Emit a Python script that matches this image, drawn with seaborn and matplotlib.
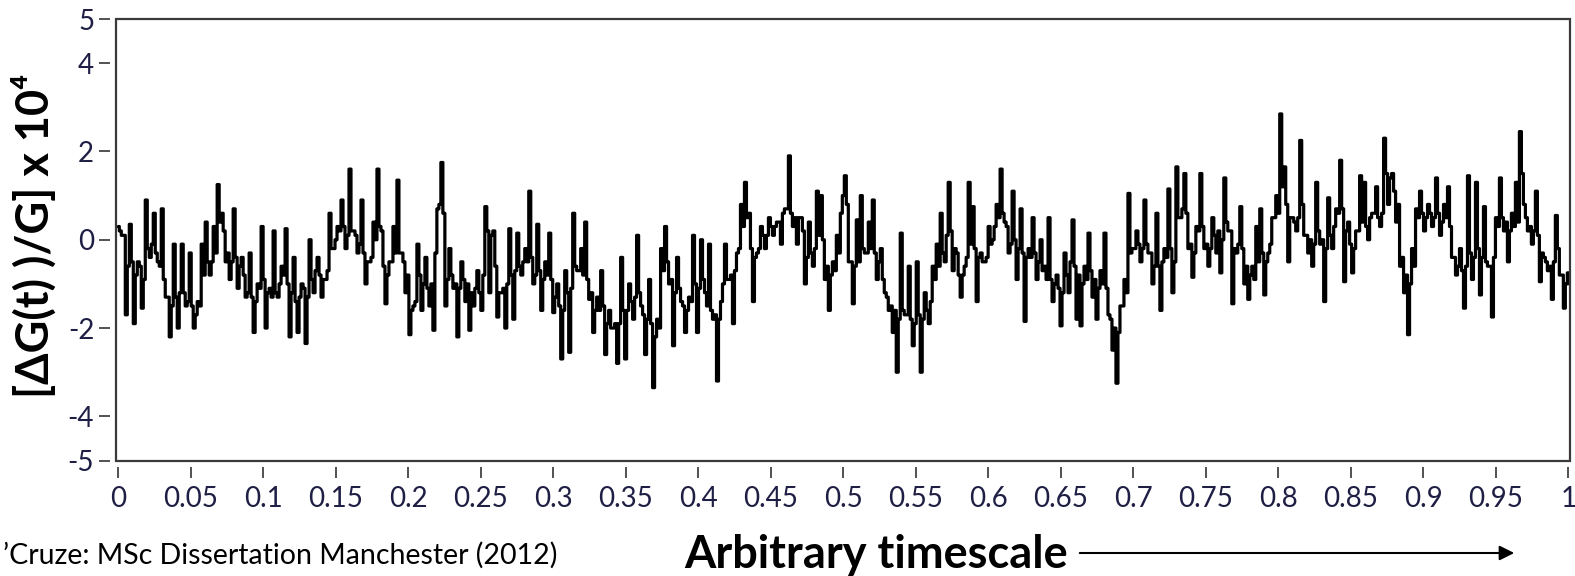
import numpy as np
import pandas as pd
import matplotlib
matplotlib.use("Agg")
import matplotlib.pyplot as plt
import seaborn as sns
from matplotlib.patches import Rectangle, FancyArrowPatch

# ---- data (equally spaced in time) ----
# excursions (spike tips / band edges), one reading every ~4 px
seg1 = [0.3, 0.1, -1.7, 0.35, -1.9, -0.5, -1.55, 0.9, -0.4, 0.6,
        -0.5, 0.7, -1.3, -2.2, -0.1, -2.0, -0.1, -1.5, -0.3, -2.0,
        -1.4, -0.1, 0.4, -0.8, 0.3, 1.25, 0.6, -0.5, -0.9, 0.7,
        -1.1, -0.4, -1.3, -0.3, -2.1, -1.0, 0.3, -2.0, -1.1, 0.2,
        -1.3, -0.6, 0.25, -2.2, -0.4, -2.1, -1.0, -2.35, 0.0, -1.2,
        -0.4, -1.3, -0.9, 0.6, -0.2, 0.3, 0.9, -0.2, 1.6, 0.2,
        -0.3, 0.9, -1.0, -0.5, 0.4, 1.6, 0.2, -1.45, -0.5, 0.3,
        1.35, -0.3, -1.2, -2.15, -1.5, -0.1, -1.6, -0.4, -1.5, -2.05,
        0.7, 1.75, -1.5, -0.2, -1.1, -2.2, -0.5, -1.4, -2.05]
seg2 = [-1.5, -0.7, -1.6, 0.75, -1.2, 0.2, -1.75, -1.2, -2.0, 0.25,
        -1.8, 0.15, -0.8, -0.2, 1.1, -1.0, 0.35, -1.6, -0.5, 0.15,
        -1.65, -1.0, -2.7, -0.7, -2.55, 0.6, -0.7, -0.2, 0.4, -1.35,
        -2.1, -1.3, -0.7, -2.6, -1.6, -2.0, -2.8, -0.4, -2.7, -1.0,
        -1.8, 0.1, -1.5, -2.6, -0.9, -3.35, -1.8, -0.2, 0.3, -1.0,
        -2.4, -0.4, -1.4, -2.1, -1.3, 0.1, -2.1, 0.0, -1.2, -0.1,
        -1.8, -3.2, -1.4, -0.1, -0.9, -1.9, -0.3, 0.8, 1.3, 0.6,
        -1.4, -0.3, 0.3, -0.2, 0.5, 0.1, 0.4, -0.1, 0.7, 1.9,
        0.3, -0.1, 0.5, -1.0, 0.4, -0.6, 1.1, 1.0, -0.9, -1.6,
        -0.5, 0.1]
seg3 = [0.6, 1.45, -0.5, -1.45, 0.45, 1.0, -0.3, 0.4, 0.9, -0.9,
        -0.2, -1.2, -1.6, -2.1, -3.0, 0.15, -1.7, -0.6, -2.4, -0.5,
        -3.0, -1.2, -1.9, -0.6, -0.1, 0.6, -0.5, 1.3, -0.7, -0.3,
        -1.3, -0.6, 1.3, 0.75, -1.4, -0.3, -0.5, 0.3, 0.0, 0.8,
        1.6, 0.4, -0.3, 1.1, -0.9, 0.7, -1.85, -0.2, 0.5, -0.9,
        0.0, -0.6, 0.5, -1.4, -0.8, -1.95, -0.3, -1.2, 0.45, -1.8,
        -1.95, -0.6, 0.15, -1.3, -1.8, -0.7, 0.15, -1.7, -2.5, -3.25,
        -1.5, -0.9, 1.05, -0.2, 0.2, -0.5, 0.9, -0.3, -1.0, 0.6,
        -1.6, -0.2, 1.15, -1.2, 1.65, 0.5, 1.5, -0.2, -0.85, 0.3]
seg4 = [1.5, -0.2, -0.6, 0.5, -0.3, -0.75, 1.4, 0.2, -1.45, -0.3,
        0.75, -1.0, -1.35, -0.6, 0.3, 0.7, -1.25, -0.3, 0.5, 1.0,
        2.85, 1.65, -0.5, 0.5, 0.2, 2.25, 0.1, -0.3, -0.6, 1.3,
        -0.1, -1.4, 0.95, -0.2, 0.7, 1.8, -0.95, 0.4, -0.75, 0.2,
        1.45, 1.3, 0.0, 0.6, 1.2, 0.3, 2.3, 0.8, 1.5, 0.4,
        -0.6, -1.2, -2.15, -0.2, 0.7, 1.1, 0.2, 0.8, 0.3, 1.4,
        0.1, 0.8, 1.2, -0.4, -0.8, -0.2, -1.55, 1.45, -0.9, 1.3,
        -1.25, 0.75, -0.6, -1.75, 0.5, 1.4, 0.2, -0.5, 0.6, 1.3,
        2.45, 0.8, 0.2, -0.1, 1.1, -0.95, -0.4, -0.7, -1.35, 0.55,
        -0.8, -1.55, -0.75]

# dense core of the trace, read between the excursions above
core1 = [0.2, 0.1, -0.6, -0.5, -0.8, -0.6, -0.9, -0.2, -0.1, -0.3,
         -0.6, -0.9, -1.3, -1.5, -1.3, -1.2, -1.2, -1.4, -1.5, -1.7,
         -1.5, -0.8, -0.5, -0.5, -0.3, 0.4, 0.2, -0.3, -0.5, -0.4,
         -0.6, -0.8, -1.2, -1.3, -1.4, -1.1, -0.9, -1.2, -1.3, -1.2,
         -1.0, -0.8, -1.0, -1.2, -1.4, -1.3, -1.1, -1.3, -0.9, -0.7,
         -0.8, -0.9, -0.7, -0.2, 0.0, 0.2, 0.3, 0.1, 0.2, 0.1,
         -0.1, -0.3, -0.5, -0.4, 0.0, 0.3, -0.6, -0.8, -0.5, -0.3,
         -0.3, -0.5, -0.8, -1.6, -1.4, -0.8, -1.0, -1.1, -1.0, -0.3,
         0.8, 0.6, -0.9, -0.8, -1.0, -1.1, -0.9, -1.0, -1.2]
core2 = [-1.1, -1.2, -0.8, 0.2, 0.1, -0.6, -1.2, -1.1, -1.0, -0.8,
         -0.7, -0.6, -0.5, -0.5, -0.4, -0.8, -0.7, -0.9, -0.8, -0.9,
         -1.3, -1.5, -1.6, -1.2, -1.1, -0.6, -0.7, -0.8, -0.9, -1.2,
         -1.6, -1.6, -1.5, -1.9, -2.0, -1.9, -1.9, -1.6, -1.6, -1.4,
         -1.3, -1.2, -1.7, -1.8, -1.9, -2.2, -2.0, -0.7, -0.5, -0.9,
         -1.2, -1.1, -1.5, -1.6, -1.4, -1.0, -1.1, -0.9, -1.5, -1.6,
         -1.7, -1.8, -1.0, -0.9, -0.8, -0.7, -0.2, 0.3, 0.5, -0.2,
         -0.4, -0.2, 0.1, 0.1, 0.3, 0.3, 0.4, 0.6, 0.7, 0.6,
         0.5, 0.5, 0.2, -0.4, -0.3, -0.2, 0.1, 0.0, -0.6, -0.8,
         -0.7, -0.3]
core3 = [1.0, 0.8, -0.5, -0.6, -0.5, -0.2, -0.3, -0.2, -0.3, -0.5,
         -0.9, -1.3, -1.5, -1.6, -1.8, -1.6, -1.7, -1.8, -1.9, -1.7,
         -1.8, -1.6, -1.4, -0.9, -0.6, -0.3, 0.1, 0.2, -0.2, -0.8,
         -0.8, -0.4, -0.1, -0.2, -0.4, -0.5, -0.4, -0.1, 0.3, 0.5,
         0.6, 0.3, -0.1, 0.0, -0.2, -0.3, -0.4, -0.4, -0.3, -0.5,
         -0.7, -0.9, -0.9, -1.0, -1.1, -1.2, -0.8, -0.5, -0.6, -0.8,
         -1.0, -0.9, -0.7, -0.9, -1.1, -1.0, -1.1, -1.8, -2.0, -2.1,
         -1.5, -1.2, -0.3, -0.2, -0.1, -0.2, -0.1, -0.3, -0.6, -0.6,
         -0.5, -0.4, -0.2, -0.5, 0.5, 0.7, 0.6, -0.1, -0.3, 0.2]
core4 = [0.3, -0.1, -0.2, 0.1, 0.2, 0.0, 0.4, 0.2, -0.2, -0.1,
         -0.2, -0.6, -0.8, -0.9, -0.5, -0.3, -0.5, -0.1, 0.5, 0.6,
         1.2, 0.8, 0.5, 0.4, 0.5, 0.8, 0.1, 0.0, -0.1, 0.2,
         0.0, -0.2, 0.1, 0.3, 0.6, 0.7, 0.2, -0.1, -0.2, 0.2,
         0.4, 0.3, 0.5, 0.6, 0.5, 0.6, 1.5, 1.4, 1.1, 0.8,
         -0.4, -0.8, -1.0, -0.6, 0.5, 0.6, 0.5, 0.6, 0.5, 0.6,
         0.4, 0.5, 0.3, -0.4, -0.6, -0.7, -0.6, -0.3, -0.4, -0.2,
         -0.4, -0.5, -0.6, -0.4, 0.3, 0.5, 0.4, 0.2, 0.3, 0.4,
         1.5, 0.5, 0.3, 0.2, 0.1, -0.3, -0.5, -0.6, -0.5, -0.2,
         -0.8, -1.0, -1.0]

x_ticks = [0, 0.05, 0.1, 0.15, 0.2, 0.25, 0.3, 0.35, 0.4, 0.45, 0.5,
           0.55, 0.6, 0.65, 0.7, 0.75, 0.8, 0.85, 0.9, 0.95, 1]
x_tick_labels = ["0", "0.05", "0.1", "0.15", "0.2", "0.25", "0.3", "0.35",
                 "0.4", "0.45", "0.5", "0.55", "0.6", "0.65", "0.7", "0.75",
                 "0.8", "0.85", "0.9", "0.95", "1"]
y_ticks = [5, 4, 2, 0, -2, -4, -5]
y_tick_labels = ["5", "4", "2", "0", "-2", "-4", "-5"]

y_label = "[ΔG(t) )/G] x 10⁴"
x_label = "Arbitrary timescale"
caption = "’Cruze: MSc Dissertation Manchester (2012)"

peaks = np.array(seg1 + seg2 + seg3 + seg4)
core = np.array(core1 + core2 + core3 + core4)
n = len(peaks)
t_peaks = np.linspace(0, 1, n)
step = t_peaks[1] - t_peaks[0]
t_core = t_peaks + step / 2

df = pd.DataFrame({"t": np.concatenate([t_peaks, t_core]),
                   "v": np.concatenate([peaks, core])}).sort_values("t")

sns.set_theme(style="white")
plt.rcParams["font.family"] = ["Lato", "DejaVu Sans"]

W, H = 1575, 576
fig = plt.figure(figsize=(W / 100, H / 100), dpi=100)
ax = fig.add_axes([115.7 / W, 1 - 460.5 / H, (1569.5 - 115.7) / W, (460.5 - 19) / H])

sns.lineplot(data=df, x="t", y="v", color="black", linewidth=2.3,
             ax=ax, errorbar=None, sort=False, drawstyle="steps-mid")
ax.set_xlim(-0.0018, 1.0008)
ax.set_ylim(-5, 5)

for s in ax.spines.values():
    s.set_visible(False)
ax.spines["left"].set_position(("outward", 4))
ax.spines["bottom"].set_position(("outward", 4.7))
ax.add_patch(Rectangle((0, 0), 1, 1, transform=ax.transAxes, fill=False,
                       ec="#3a3a3a", lw=1.6, clip_on=False, zorder=5))

ax.set_xticks(x_ticks)
ax.set_xticklabels(x_tick_labels)
ax.set_yticks(y_ticks)
ax.set_yticklabels(y_tick_labels)
ax.tick_params(axis="both", direction="out", length=8, width=1.2,
               color="#333333", labelsize=20, labelcolor="#1f1f45",
               left=True, bottom=True)
ax.tick_params(axis="x", pad=6)
ax.tick_params(axis="y", pad=3.5)
ax.set_xlabel("")
ax.set_ylabel("")

fig.text(34 / W, 1 - 236 / H, y_label, rotation=90, ha="center", va="center",
         fontsize=32.5, fontweight="bold", color="black")
fig.text(876 / W, 1 - 555 / H, x_label, ha="center", va="center",
         fontsize=32.5, fontweight="bold", color="black")
fig.text(3 / W, 1 - 555 / H, caption, ha="left", va="center",
         fontsize=20.5, color="black")
arrow = FancyArrowPatch((1077 / W, 1 - 553 / H), (1517 / W, 1 - 553 / H),
                        transform=fig.transFigure, arrowstyle="-|>",
                        mutation_scale=22, lw=1.5, color="black")
fig.patches.append(arrow)

fig.savefig("out.png", dpi=100)
